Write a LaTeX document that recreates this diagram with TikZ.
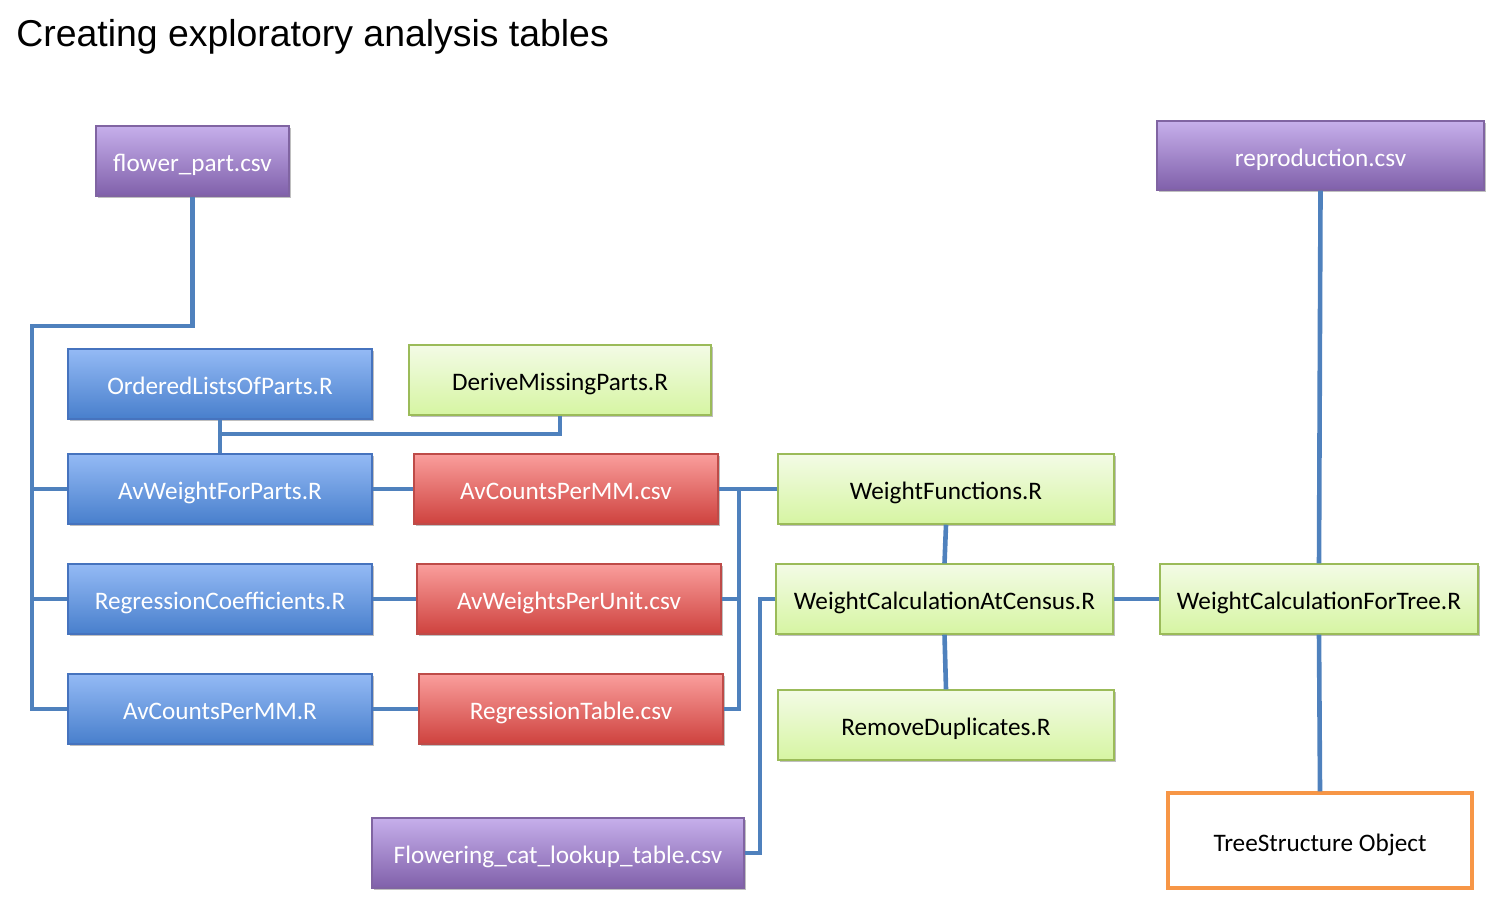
\documentclass[tikz,border=0pt]{standalone}
\usepackage{fontspec}
\setmainfont{Carlito}
\newfontfamily\titlefont{Liberation Sans}
\usetikzlibrary{shadows}
\definecolor{lineblue}{RGB}{79,129,189}
\definecolor{bluetop}{RGB}{148,186,245}
\definecolor{bluebot}{RGB}{72,127,204}
\definecolor{blueedge}{RGB}{70,115,190}
\definecolor{redtop}{RGB}{250,158,156}
\definecolor{redbot}{RGB}{206,66,62}
\definecolor{rededge}{RGB}{190,75,72}
\definecolor{greentop}{RGB}{243,251,230}
\definecolor{greenbot}{RGB}{214,245,162}
\definecolor{greenedge}{RGB}{155,187,89}
\definecolor{purptop}{RGB}{198,175,235}
\definecolor{purpbot}{RGB}{128,96,170}
\definecolor{purpedge}{RGB}{128,100,162}
\definecolor{orangeedge}{RGB}{247,150,70}
\tikzset{
  sz/.style 2 args={minimum width=#1*0.5pt, minimum height=#2*0.5pt},
  basebox/.style={rectangle, inner sep=0pt, line width=0.7pt,
    font=\fontsize{12.6pt}{14pt}\selectfont, text height=10.5pt, text depth=0pt,
    drop shadow={shadow xshift=0.8pt, shadow yshift=-1.2pt, opacity=0.25, fill=black}},
  bluebox/.style={basebox, draw=blueedge, top color=bluetop, bottom color=bluebot, text=white},
  redbox/.style={basebox, draw=rededge, top color=redtop, bottom color=redbot, text=white},
  greenbox/.style={basebox, draw=greenedge, top color=greentop, bottom color=greenbot, text=black},
  purplebox/.style={basebox, draw=purpedge, top color=purptop, bottom color=purpbot, text=white},
  orangebox/.style={rectangle, inner sep=0pt, line width=1.6pt, draw=orangeedge, fill=white,
    font=\fontsize{12.6pt}{14pt}\selectfont, text height=10.5pt, text depth=0pt},
  conn/.style={draw=lineblue, line width=2.3pt}
}
\begin{document}
\begin{tikzpicture}[x=0.5pt,y=-0.5pt]
\useasboundingbox (0,0) rectangle (1491,900);
\node[anchor=base west, inner sep=0pt, font=\titlefont\fontsize{18.7pt}{22pt}\selectfont] (title) at (16,46) {Creating exploratory analysis tables};

% coordinates for connector corners
\coordinate (tl) at (32,326);
\coordinate (j1) at (220,434);
\coordinate (bus) at (739,0);
\coordinate (fb) at (760,0);

\node[purplebox, sz={193}{70}] (flower) at (192.5,161) {flower\_part.csv};
\node[purplebox, sz={327}{69}] (repro) at (1320.5,155.5) {reproduction.csv};
\node[bluebox, sz={304}{70}] (ordered) at (220,384) {OrderedListsOfParts.R};
\node[greenbox, sz={302}{70}] (derive) at (560,380) {DeriveMissingParts.R};
\node[bluebox, sz={304}{70}] (avweight) at (220,489) {AvWeightForParts.R};
\node[redbox, sz={304}{70}] (avcountscsv) at (566,489) {AvCountsPerMM.csv};
\node[greenbox, sz={336}{70}] (weightfun) at (946,489) {WeightFunctions.R};
\node[bluebox, sz={304}{70}] (regcoef) at (220,599) {RegressionCoefficients.R};
\node[redbox, sz={304}{70}] (avweightsunit) at (569,599) {AvWeightsPerUnit.csv};
\node[greenbox, sz={337}{70}] (wcc) at (944.5,599) {WeightCalculationAtCensus.R};
\node[greenbox, sz={318}{70}] (wcft) at (1319,599) {WeightCalculationForTree.R};
\node[bluebox, sz={304}{70}] (avcountsR) at (220,709) {AvCountsPerMM.R};
\node[redbox, sz={304}{70}] (regtable) at (571,709) {RegressionTable.csv};
\node[greenbox, sz={336}{70}] (remdup) at (946,725) {RemoveDuplicates.R};
\node[purplebox, sz={372}{70}] (flowering) at (558,853) {Flowering\_cat\_lookup\_table.csv};
\node[orangebox, sz={304}{95}] (tree) at (1320,840.5) {TreeStructure Object};

% connectors
\draw[conn] (flower.south) |- (tl) |- (avcountsR.west);
\draw[conn] (tl |- avweight.west) -- (avweight.west);
\draw[conn] (tl |- regcoef.west) -- (regcoef.west);
\draw[conn] (ordered.south) -- (avweight.north);
\draw[conn] (derive.south) |- (j1);
\draw[conn] (avweight.east) -- (avcountscsv.west);
\draw[conn] (regcoef.east) -- (avweightsunit.west);
\draw[conn] (avcountsR.east) -- (regtable.west);
\draw[conn] (avcountscsv.east) -- (weightfun.west);
\draw[conn] (regtable.east) -| (bus |- avcountscsv.east);
\draw[conn] (avweightsunit.east) -- (bus |- avweightsunit.east);
\draw[conn] (weightfun.south) -- (wcc.north);
\draw[conn] (wcc.south) -- (remdup.north);
\draw[conn] (wcc.west) -| (fb |- flowering.east) -- (flowering.east);
\draw[conn] (wcc.east) -- (wcft.west);
\draw[conn] (repro.south) -- (wcft.north);
\draw[conn] (wcft.south) -- (tree.north);
\end{tikzpicture}
\end{document}
